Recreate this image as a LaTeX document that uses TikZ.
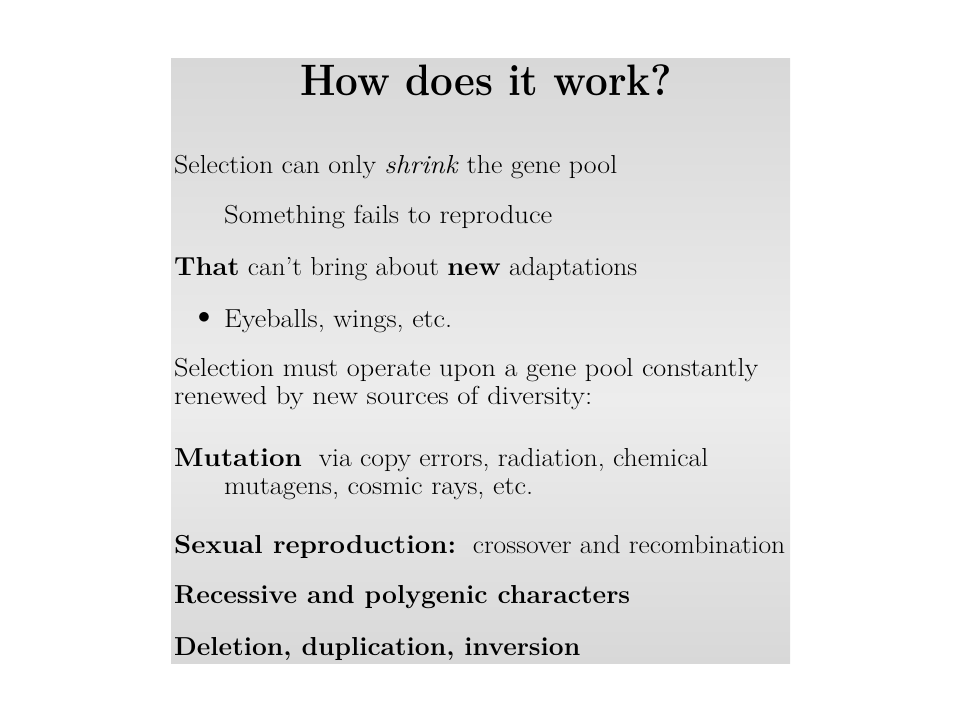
\documentclass[tikz,border=0pt]{standalone}
\usepackage{graphicx}
\newcommand\fitw[2]{\resizebox{#1pt}{\height}{#2}}
\definecolor{bgedge}{HTML}{D8D8D8}
\definecolor{bgmid}{HTML}{EDEDED}
\tikzset{
  body/.style={anchor=base west, inner sep=0pt, font=\fontsize{26}{30}\selectfont},
  ttl/.style={anchor=base west, inner sep=0pt, font=\fontsize{44}{50}\selectfont\bfseries},
}
\begin{document}
\begin{tikzpicture}[x=1pt,y=-1pt]
\useasboundingbox (0,0) rectangle (960,720);
\fill[white] (0,0) rectangle (960,720);
\shade[top color=bgedge, bottom color=bgmid] (171,58) rectangle (790,400.5);
\shade[top color=bgmid, bottom color=bgedge] (171,400) rectangle (790,663);
\node[ttl] (title) at (300,95) {\fitw{372}{How does it work?}};
\node[body] (l1) at (174,173) {\fitw{443}{Selection can only \textit{shrink} the gene pool}};
\node[body] (l2) at (224,223) {\fitw{328}{Something fails to reproduce}};
\node[body] (l3) at (174,275) {\fitw{463}{\textbf{That} can't bring about \textbf{new} adaptations}};
\node[inner sep=0pt, font=\fontsize{25}{30}\selectfont] (b4) at (204,318) {$\bullet$};
\node[body] (l4) at (224,327) {\fitw{228}{Eyeballs, wings, etc.}};
\node[body] (l5) at (174,376) {\fitw{584}{Selection must operate upon a gene pool constantly}};
\node[body] (l6) at (174,404) {\fitw{418}{renewed by new sources of diversity:}};
\node[body] (l7) at (174,466) {\fitw{534}{\textbf{Mutation}\ \ via copy errors, radiation, chemical}};
\node[body] (l8) at (224,494) {\fitw{309}{mutagens, cosmic rays, etc.}};
\node[body] (l9) at (174,553) {\fitw{611}{\textbf{Sexual reproduction:}\ \ crossover and recombination}};
\node[body] (l10) at (174,603) {\fitw{456}{\textbf{Recessive and polygenic characters}}};
\node[body] (l11) at (174,655) {\fitw{406}{\textbf{Deletion, duplication, inversion}}};
\end{tikzpicture}
\end{document}
